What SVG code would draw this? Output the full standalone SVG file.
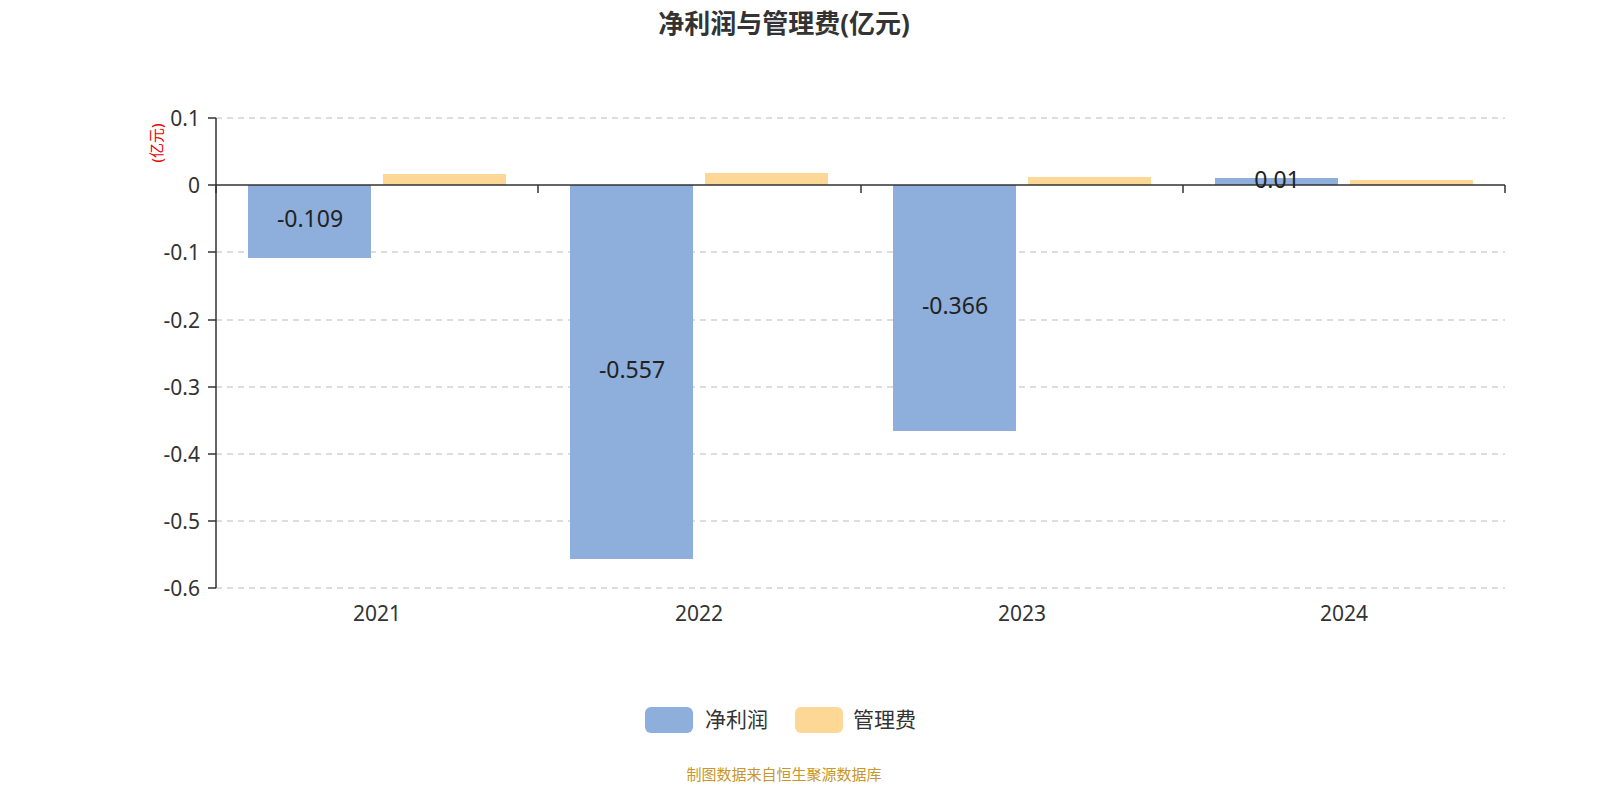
<svg xmlns="http://www.w3.org/2000/svg" width="1600" height="800" viewBox="0 0 1600 800">
<style>
text{font-family:"Noto Sans","Noto Sans CJK SC",sans-serif;}
.grid{stroke:#bbb;stroke-dasharray:6,5;stroke-width:1}
.ax{stroke:#333;stroke-width:1.5;fill:none}
.yl{font-size:21px;fill:#333;text-anchor:end}
.xl{font-size:21px;fill:#333;text-anchor:middle}
.np{fill:#8eaedb}
.mg{fill:#fdd796}
.lb{font-size:23px;fill:#222;text-anchor:middle}
</style>
<rect width="1600" height="800" fill="#fff"/>
<text x="784" y="33" font-size="26" font-weight="bold" fill="#333" text-anchor="middle">净利润与管理费(亿元)</text>
<text transform="translate(162,143) rotate(-90)" font-size="15" fill="#e00" text-anchor="middle">(亿元)</text>
<g id="grid">
<line class="grid" x1="216" y1="118" x2="1505" y2="118"/>
<line class="grid" x1="216" y1="252" x2="1505" y2="252"/>
<line class="grid" x1="216" y1="320" x2="1505" y2="320"/>
<line class="grid" x1="216" y1="387" x2="1505" y2="387"/>
<line class="grid" x1="216" y1="454" x2="1505" y2="454"/>
<line class="grid" x1="216" y1="521" x2="1505" y2="521"/>
<line class="grid" x1="216" y1="588" x2="1505" y2="588"/>
</g>
<g id="bars">
<rect class="np" x="248" y="185" width="123" height="73"/>
<rect class="np" x="570" y="185" width="123" height="374"/>
<rect class="np" x="893" y="185" width="123" height="246"/>
<rect class="np" x="1215" y="178" width="123" height="7"/>
<rect class="mg" x="383" y="174" width="123" height="11"/>
<rect class="mg" x="705" y="173" width="123" height="12"/>
<rect class="mg" x="1028" y="177" width="123" height="8"/>
<rect class="mg" x="1350" y="180" width="123" height="5"/>
</g>
<g id="axes">
<path class="ax" d="M216,118V588M208,118H216M208,185H216M208,252H216M208,320H216M208,387H216M208,454H216M208,521H216M208,588H216"/>
<path class="ax" d="M216,185H1505M216,185V193M538,185V193M861,185V193M1183,185V193M1505,185V193"/>
</g>
<g id="ylabels">
<text class="yl" x="200" y="126">0.1</text>
<text class="yl" x="200" y="193">0</text>
<text class="yl" x="200" y="260">-0.1</text>
<text class="yl" x="200" y="328">-0.2</text>
<text class="yl" x="200" y="395">-0.3</text>
<text class="yl" x="200" y="462">-0.4</text>
<text class="yl" x="200" y="529">-0.5</text>
<text class="yl" x="200" y="596">-0.6</text>
</g>
<g id="xlabels">
<text class="xl" x="377" y="621">2021</text>
<text class="xl" x="699" y="621">2022</text>
<text class="xl" x="1022" y="621">2023</text>
<text class="xl" x="1344" y="621">2024</text>
</g>
<g id="labels">
<text class="lb" x="310" y="227">-0.109</text>
<text class="lb" x="632" y="378">-0.557</text>
<text class="lb" x="955" y="314">-0.366</text>
<text class="lb" x="1277" y="188">0.01</text>
</g>
<g id="legend">
<rect class="np" x="645" y="707" width="48" height="26" rx="6"/>
<text x="705" y="727" font-size="21" fill="#333">净利润</text>
<rect class="mg" x="795" y="707" width="48" height="26" rx="6"/>
<text x="853" y="727" font-size="21" fill="#333">管理费</text>
</g>
<text x="784" y="780" font-size="15" fill="#c8962a" text-anchor="middle">制图数据来自恒生聚源数据库</text>
</svg>
